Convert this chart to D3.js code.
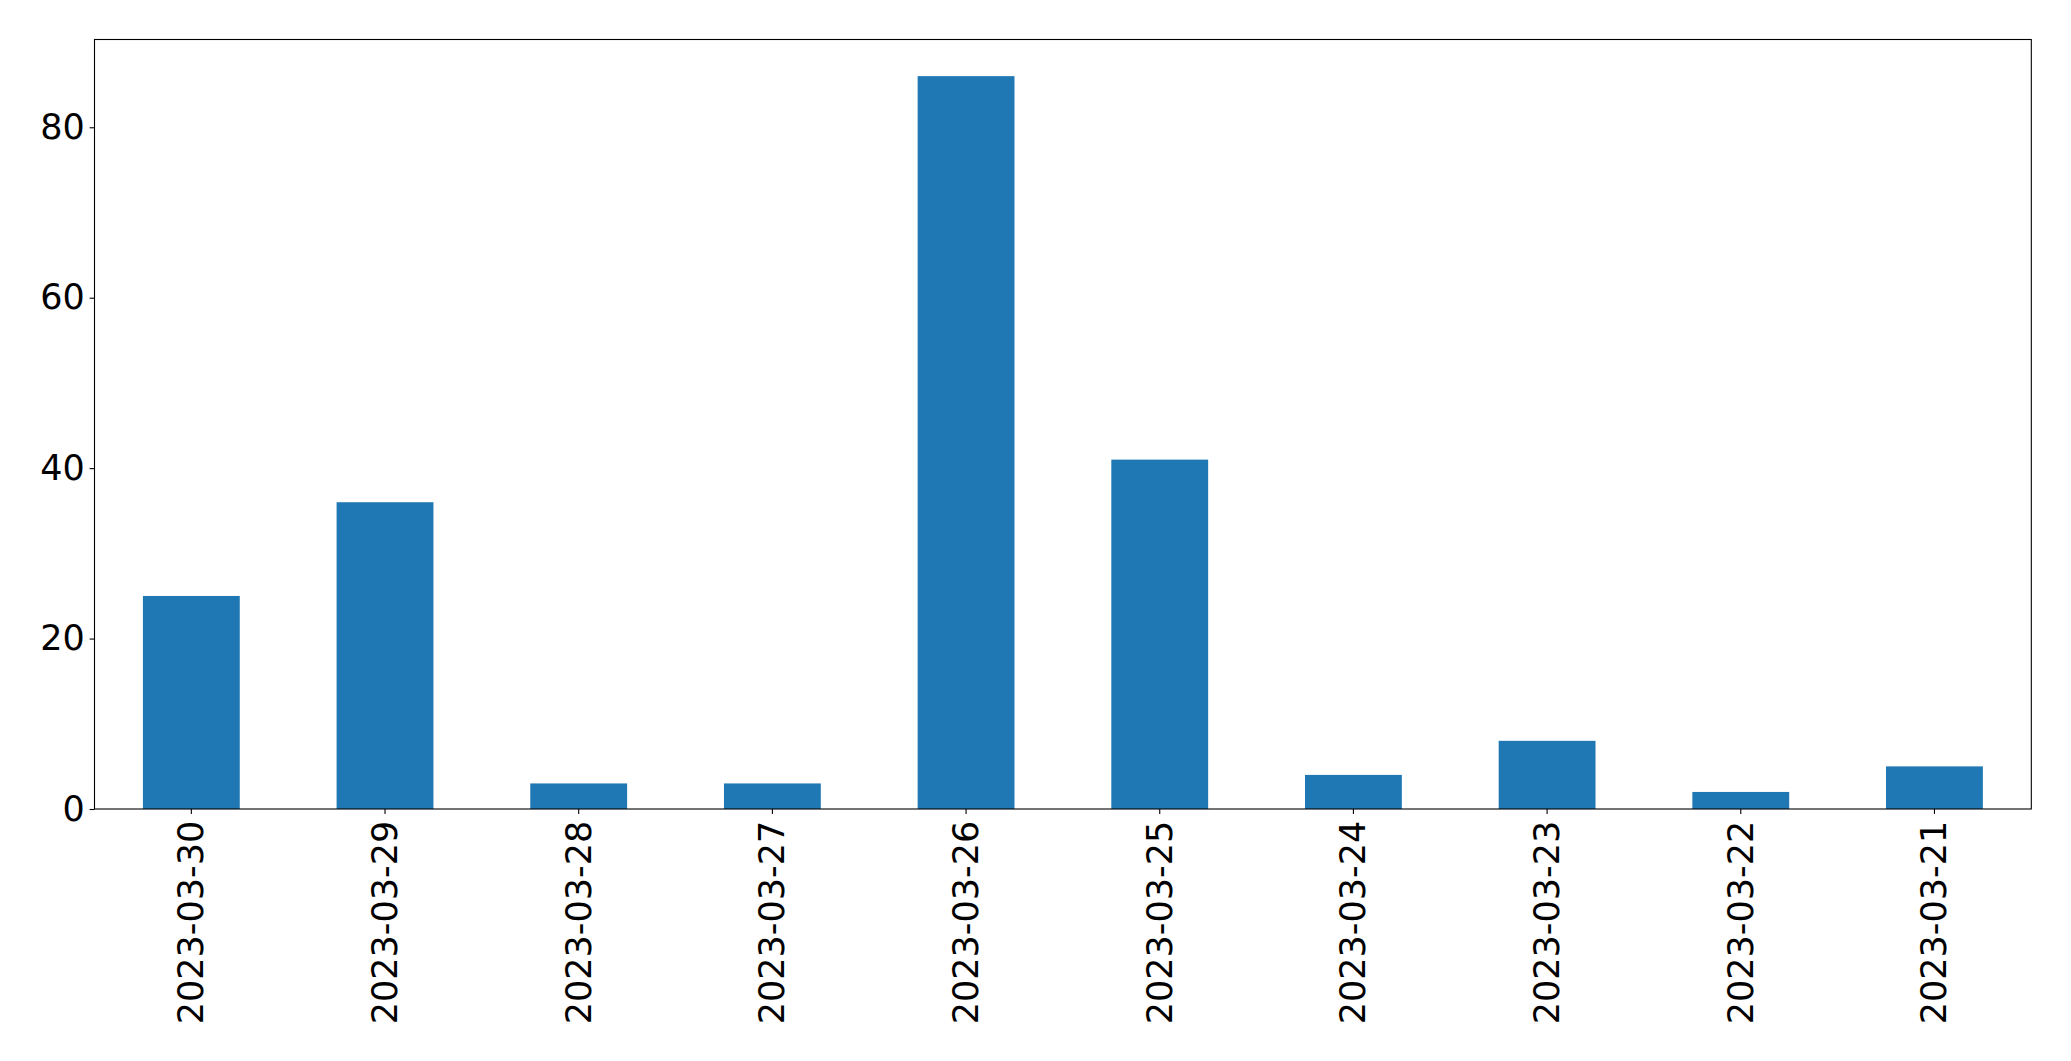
<!DOCTYPE html>
<html>
<head>
<meta charset="utf-8">
<script src="https://cdn.jsdelivr.net/npm/d3@7"></script>
<style>
  html, body { margin: 0; padding: 0; background: #fff; }
  svg { display: block; }
  text { font-family: "DejaVu Sans", sans-serif; fill: #000; }
</style>
</head>
<body>
<svg id="chart" width="2071" height="1061"></svg>
<script>
const categories = ["2023-03-30","2023-03-29","2023-03-28","2023-03-27","2023-03-26","2023-03-25","2023-03-24","2023-03-23","2023-03-22","2023-03-21"];
const values = [25, 36, 3, 3, 86, 41, 4, 8, 2, 5];
const yTicks = [0, 20, 40, 60, 80];

const W = 2071, H = 1061;
const m = { left: 94.5, right: W - 2031.3, top: 39.5, bottom: H - 809 };
const svg = d3.select("#chart");
const fontSize = 35;
const tickLen = 4.9, pad = 4.9;

const x = d3.scaleBand().domain(categories)
  .range([m.left, W - m.right]).paddingInner(0.5).paddingOuter(0.25);
const yMax = d3.max(values) * 1.05;
const y = d3.scaleLinear().domain([0, yMax]).range([H - m.bottom, m.top]);

svg.append("g").selectAll("rect").data(values).join("rect")
  .attr("x", (d, i) => x(categories[i]))
  .attr("y", d => y(d))
  .attr("width", x.bandwidth())
  .attr("height", d => y(0) - y(d))
  .attr("fill", "#1f77b4");

// Y axis
const yAxis = svg.append("g").attr("transform", `translate(${m.left},0)`)
  .call(d3.axisLeft(y).tickValues(yTicks).tickSize(tickLen).tickPadding(pad).tickFormat(d3.format("d")));
yAxis.select(".domain").remove();
yAxis.selectAll("line").attr("stroke", "#000").attr("stroke-width", 1.1);
yAxis.selectAll("text").attr("font-size", fontSize).attr("font-family", "DejaVu Sans").attr("fill", "#000");

// X axis
const xAxis = svg.append("g").attr("transform", `translate(0,${H - m.bottom})`)
  .call(d3.axisBottom(x).tickSize(tickLen).tickPadding(pad));
xAxis.select(".domain").remove();
xAxis.selectAll("line").attr("stroke", "#000").attr("stroke-width", 1.1);
xAxis.selectAll("text")
  .attr("font-size", fontSize).attr("font-family", "DejaVu Sans").attr("fill", "#000")
  .attr("transform", null)
  .attr("y", 0).attr("x", 0).attr("dy", null)
  .attr("text-anchor", "end")
  .attr("dominant-baseline", "central")
  .attr("transform", `translate(0,${tickLen + pad + 2}) rotate(-90)`);

// Frame
svg.append("rect")
  .attr("x", m.left).attr("y", m.top)
  .attr("width", W - m.right - m.left).attr("height", H - m.bottom - m.top)
  .attr("fill", "none").attr("stroke", "#000").attr("stroke-width", 1.1);
</script>
</body>
</html>
